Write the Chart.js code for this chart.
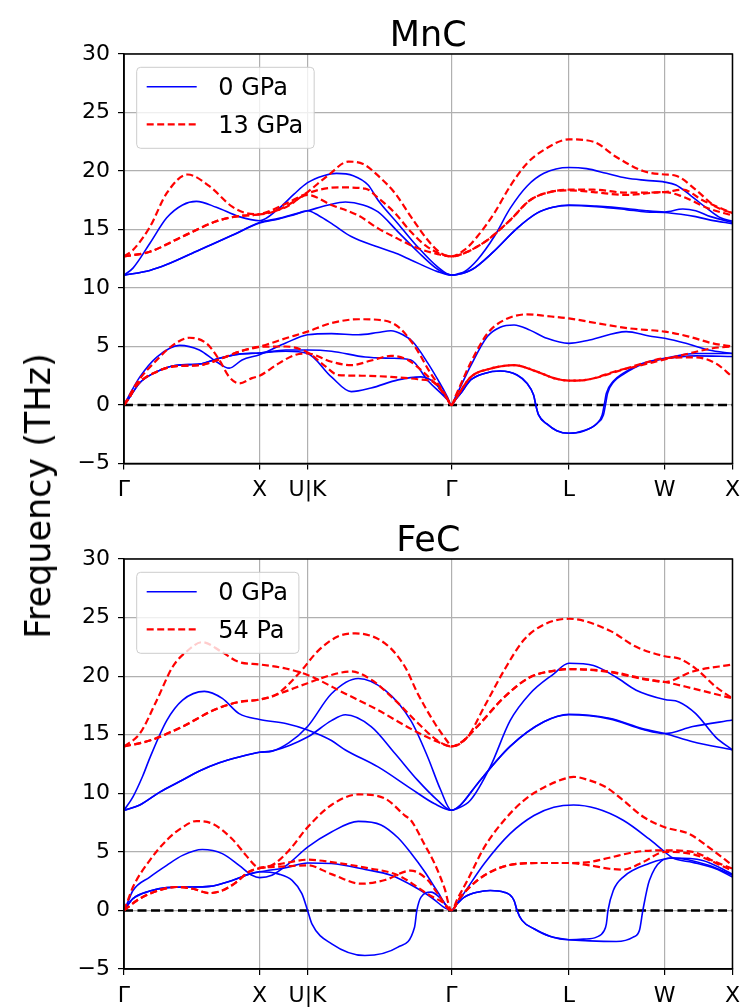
<!DOCTYPE html>
<html><head><meta charset="utf-8">
<script src="https://cdn.jsdelivr.net/npm/chart.js"></script>
<style>
html,body{margin:0;padding:0;background:#fff;}
body{width:748px;height:1007px;position:relative;overflow:hidden;}
canvas{position:absolute;left:0;}
#ylab{position:absolute;left:38px;top:496px;transform:translate(-50%,-50%) rotate(-90deg);font:35px 'DejaVu Sans';white-space:nowrap;color:#000;z-index:5;}
</style></head><body>
<canvas id="c1" width="748" height="504" style="top:0;width:748px;height:504px"></canvas>
<canvas id="c2" width="748" height="503" style="top:504px;width:748px;height:503px"></canvas>
<div id="ylab">Frequency (THz)</div>
<script>
// ---- high-symmetry path ----
const PATH_K = [0, 1.0, 1.354, 2.415, 3.281, 3.988, 4.488];
const PATH_LABELS = ['Γ', 'X', 'U|K', 'Γ', 'L', 'W', 'X'];
const Y_MIN = -5, Y_MAX = 30, Y_STEP = 5;
const TITLES = ['MnC', 'FeC'];
const LEGEND_MNC = ['0 GPa', '13 GPa'];
const LEGEND_FEC = ['0 GPa', '54 Pa'];

// ---- MnC, 0 GPa (THz) : [k, frequency] ----
const mnc0_o1 = [[0,11.1],[0.066,11.7],[0.19,13.8],[0.315,16.0],[0.432,17.1],[0.534,17.4],[0.681,16.9],[0.849,16.1],[1.0,15.75],[1.142,16.8],[1.252,18.0],[1.354,19.0],[1.472,19.6],[1.567,19.8],[1.691,19.6],[1.801,18.8],[1.874,17.5],[2.021,15.5],[2.167,13.5],[2.313,11.8],[2.415,11.1],[2.46,11.2],[2.511,11.4],[2.606,12.4],[2.731,14.4],[2.848,16.8],[2.972,18.7],[3.097,19.8],[3.281,20.3],[3.412,20.2],[3.558,19.8],[3.704,19.4],[3.851,19.2],[3.988,19.05],[4.071,18.8],[4.18,17.9],[4.312,16.7],[4.4,16.0],[4.488,15.7]];
const mnc0_o2 = [[0,11.1],[0.19,11.5],[0.315,12.0],[0.556,13.25],[0.798,14.5],[1.0,15.6],[1.142,15.95],[1.252,16.3],[1.354,16.6],[1.508,17.1],[1.633,17.35],[1.764,17.1],[1.874,16.5],[2.021,14.8],[2.167,13.1],[2.313,11.6],[2.415,11.1],[2.46,11.15],[2.57,11.6],[2.716,13.0],[2.899,15.1],[3.046,16.4],[3.163,16.9],[3.281,17.1],[3.485,17.0],[3.704,16.8],[3.851,16.6],[3.988,16.5],[4.122,16.75],[4.217,16.6],[4.327,16.1],[4.488,15.6]];
const mnc0_o3 = [[0,11.1],[0.19,11.5],[0.315,12.0],[0.556,13.25],[0.798,14.5],[1.0,15.55],[1.142,15.9],[1.252,16.25],[1.354,16.6],[1.435,16.2],[1.545,15.4],[1.676,14.4],[1.874,13.5],[2.021,12.9],[2.116,12.4],[2.313,11.4],[2.415,11.1],[2.46,11.15],[2.57,11.6],[2.716,13.0],[2.899,15.1],[3.046,16.4],[3.163,16.9],[3.281,17.05],[3.485,16.95],[3.704,16.7],[3.851,16.5],[3.988,16.45],[4.108,16.3],[4.217,16.1],[4.327,15.8],[4.488,15.5]];
const mnc0_a1 = [[0,0],[0.03,0.65],[0.117,2.4],[0.242,4.1],[0.41,5.1],[0.556,4.7],[0.681,3.7],[0.776,3.15],[0.871,3.85],[1.0,4.3],[1.193,5.3],[1.354,6.0],[1.53,6.1],[1.728,6.0],[1.874,6.2],[1.969,6.35],[2.057,6.0],[2.13,5.4],[2.24,3.6],[2.328,1.9],[2.385,0.7],[2.415,0],[2.445,0.7],[2.482,1.55],[2.555,3.3],[2.68,5.85],[2.775,6.65],[2.877,6.84],[2.994,6.4],[3.119,5.7],[3.281,5.27],[3.434,5.55],[3.704,6.27],[3.873,5.9],[3.988,5.7],[4.144,5.27],[4.312,4.7],[4.488,4.4]];
const mnc0_a2 = [[0,0],[0.03,0.45],[0.117,1.9],[0.242,2.85],[0.388,3.4],[0.556,3.5],[0.703,4.0],[0.849,4.35],[1.0,4.45],[1.193,4.7],[1.354,4.7],[1.53,4.6],[1.779,4.1],[1.969,4.0],[2.116,3.85],[2.24,2.1],[2.385,0.45],[2.415,0],[2.445,0.45],[2.484,1.0],[2.557,2.14],[2.658,2.7],[2.775,2.9],[2.899,2.56],[2.972,1.85],[3.021,0.85],[3.04,-0.14],[3.058,-0.85],[3.119,-1.62],[3.192,-2.2],[3.281,-2.42],[3.387,-2.2],[3.485,-1.62],[3.527,-0.85],[3.542,0],[3.558,1.0],[3.607,2.0],[3.68,2.7],[3.827,3.56],[3.988,4.0],[4.217,4.4],[4.488,4.4]];
const mnc0_a3 = [[0,0],[0.03,0.45],[0.117,1.9],[0.242,2.85],[0.388,3.4],[0.556,3.5],[0.703,4.0],[0.849,4.35],[1.0,4.45],[1.193,4.6],[1.354,4.4],[1.53,2.4],[1.676,1.14],[1.823,1.45],[2.021,2.15],[2.189,2.4],[2.291,1.9],[2.385,0.5],[2.415,0],[2.445,0.45],[2.484,1.0],[2.557,2.14],[2.658,2.7],[2.775,2.9],[2.899,2.56],[2.972,1.85],[3.021,0.85],[3.04,-0.14],[3.058,-0.85],[3.119,-1.62],[3.192,-2.2],[3.281,-2.42],[3.387,-2.25],[3.492,-1.55],[3.536,-0.85],[3.551,0],[3.567,1.0],[3.614,2.0],[3.68,2.6],[3.827,3.5],[3.988,3.95],[4.217,4.2],[4.488,4.15]];

// ---- MnC, 13 GPa ----
const mnc13_o1 = [[0,12.7],[0.066,13.25],[0.19,15.2],[0.315,18.1],[0.469,19.7],[0.63,18.7],[0.798,16.95],[0.9,16.4],[1.0,16.3],[1.142,16.7],[1.267,17.5],[1.354,18.2],[1.508,19.65],[1.655,20.8],[1.764,20.6],[1.874,19.6],[1.999,18.1],[2.116,16.1],[2.24,14.1],[2.335,13.0],[2.415,12.7],[2.511,13.25],[2.606,14.4],[2.731,16.4],[2.848,18.7],[2.972,20.65],[3.097,21.8],[3.281,22.7],[3.463,22.5],[3.631,21.2],[3.829,20.0],[3.988,19.7],[4.071,19.6],[4.217,18.4],[4.364,16.95],[4.488,16.4]];
const mnc13_o2 = [[0,12.7],[0.19,13.1],[0.432,14.4],[0.681,15.7],[0.849,16.15],[1.0,16.3],[1.193,17.2],[1.354,18.1],[1.581,18.6],[1.779,18.5],[1.874,17.7],[1.999,16.4],[2.116,14.8],[2.24,13.5],[2.415,12.7],[2.533,13.1],[2.68,14.1],[2.848,15.8],[2.994,17.5],[3.141,18.2],[3.281,18.4],[3.463,18.4],[3.704,18.15],[3.988,18.2],[4.122,18.4],[4.268,17.5],[4.488,16.4]];
const mnc13_o3 = [[0,12.7],[0.19,13.1],[0.432,14.4],[0.681,15.7],[0.849,16.15],[1.0,16.3],[1.193,16.9],[1.354,17.95],[1.53,17.1],[1.728,16.2],[1.874,15.1],[2.021,14.2],[2.167,13.4],[2.313,12.9],[2.415,12.7],[2.533,13.1],[2.68,14.1],[2.848,15.8],[2.994,17.5],[3.141,18.2],[3.281,18.35],[3.463,18.2],[3.704,17.95],[3.988,18.2],[4.122,17.8],[4.312,16.8],[4.488,16.2]];
const mnc13_a1 = [[0,0],[0.03,0.6],[0.095,1.9],[0.242,3.85],[0.359,5.1],[0.483,5.75],[0.608,5.27],[0.703,3.85],[0.776,2.4],[0.849,1.85],[0.944,2.3],[1.0,2.5],[1.142,3.56],[1.267,4.3],[1.354,4.4],[1.53,3.7],[1.676,3.4],[1.823,3.8],[1.969,4.2],[2.094,3.85],[2.218,2.7],[2.335,1.3],[2.385,0.5],[2.415,0],[2.445,0.75],[2.555,3.56],[2.68,6.1],[2.804,7.26],[2.972,7.75],[3.119,7.6],[3.281,7.4],[3.485,7.0],[3.726,6.55],[3.988,6.27],[4.166,5.85],[4.342,5.27],[4.488,5.0]];
const mnc13_a2 = [[0,0],[0.03,0.45],[0.095,1.7],[0.242,2.85],[0.388,3.33],[0.556,3.4],[0.703,3.9],[0.849,4.55],[1.0,4.98],[1.193,5.7],[1.354,6.27],[1.53,7.0],[1.728,7.33],[1.896,7.26],[2.021,6.7],[2.145,5.0],[2.262,2.7],[2.364,1.0],[2.415,0],[2.445,0.5],[2.555,2.36],[2.701,3.1],[2.877,3.4],[3.046,2.85],[3.17,2.3],[3.281,2.08],[3.434,2.2],[3.631,2.85],[3.829,3.56],[3.988,4.0],[4.217,4.07],[4.364,3.56],[4.488,2.4]];
const mnc13_a3 = [[0,0],[0.03,0.45],[0.095,1.7],[0.242,2.85],[0.388,3.33],[0.556,3.4],[0.703,3.9],[0.849,4.55],[1.0,4.98],[1.193,5.0],[1.354,4.5],[1.486,3.3],[1.581,2.56],[1.779,2.5],[1.969,2.4],[2.167,2.2],[2.291,1.9],[2.385,0.55],[2.415,0],[2.445,0.5],[2.555,2.36],[2.701,3.1],[2.877,3.4],[3.046,2.85],[3.17,2.3],[3.281,2.08],[3.434,2.2],[3.631,2.9],[3.778,3.3],[3.988,3.9],[4.166,4.4],[4.342,4.85],[4.488,5.0]];

// ---- FeC, 0 GPa ----
const fec0_o1 = [[0,8.55],[0.066,9.7],[0.139,11.5],[0.19,13.0],[0.315,16.2],[0.432,17.95],[0.593,18.7],[0.725,18.1],[0.849,16.8],[1.0,16.3],[1.193,15.95],[1.354,15.4],[1.53,14.5],[1.633,13.7],[1.874,12.25],[2.116,10.4],[2.291,9.1],[2.415,8.55],[2.46,8.7],[2.555,9.4],[2.701,12.25],[2.848,16.2],[2.994,18.5],[3.17,20.2],[3.281,21.1],[3.463,20.9],[3.631,19.9],[3.778,18.8],[3.988,18.0],[4.093,17.8],[4.217,16.8],[4.364,14.8],[4.488,13.7]];
const fec0_o2 = [[0,8.55],[0.117,9.0],[0.264,10.1],[0.41,11.0],[0.556,11.9],[0.703,12.6],[0.849,13.1],[1.0,13.5],[1.091,13.6],[1.215,14.3],[1.354,15.7],[1.53,18.5],[1.728,19.8],[1.925,18.8],[2.116,16.2],[2.24,13.1],[2.335,10.3],[2.415,8.55],[2.482,9.0],[2.606,10.8],[2.848,14.0],[3.097,16.1],[3.281,16.75],[3.58,16.4],[3.829,15.5],[3.988,15.1],[4.195,14.4],[4.488,13.7]];
const fec0_o3 = [[0,8.55],[0.117,9.0],[0.264,10.1],[0.41,11.0],[0.556,11.9],[0.703,12.6],[0.849,13.1],[1.0,13.5],[1.091,13.6],[1.354,14.8],[1.53,16.2],[1.633,16.7],[1.823,15.7],[1.999,13.4],[2.167,11.1],[2.313,9.4],[2.415,8.55],[2.482,9.0],[2.606,10.8],[2.848,14.0],[3.097,16.1],[3.281,16.7],[3.58,16.35],[3.829,15.45],[3.988,15.1],[4.195,15.7],[4.488,16.25]];
const fec0_a1 = [[0,0],[0.03,0.75],[0.066,1.7],[0.19,2.85],[0.315,3.85],[0.432,4.7],[0.578,5.2],[0.725,4.85],[0.849,3.85],[0.944,3.0],[1.0,2.8],[1.091,3.0],[1.215,4.0],[1.354,5.4],[1.53,6.7],[1.728,7.6],[1.896,7.3],[2.021,6.2],[2.116,4.9],[2.218,3.3],[2.313,1.6],[2.415,0],[2.46,0.65],[2.533,1.9],[2.658,4.0],[2.848,6.55],[3.024,8.1],[3.17,8.8],[3.316,9.0],[3.485,8.7],[3.682,7.7],[3.873,6.1],[3.988,5.0],[4.049,4.47],[4.195,4.1],[4.364,3.56],[4.488,2.85]];
const fec0_a2 = [[0,0],[0.066,1.0],[0.19,1.65],[0.315,1.95],[0.483,2.0],[0.63,2.05],[0.798,2.56],[0.922,3.1],[1.0,3.3],[1.193,3.65],[1.354,4.05],[1.53,4.0],[1.779,3.5],[1.969,3.0],[2.145,2.0],[2.262,1.15],[2.415,0],[2.46,0.6],[2.511,1.14],[2.606,1.56],[2.701,1.7],[2.804,1.56],[2.877,0.85],[2.899,0],[2.936,-0.85],[3.024,-1.56],[3.141,-2.2],[3.281,-2.5],[3.39,-2.45],[3.485,-2.28],[3.543,-1.7],[3.558,-1.14],[3.57,0],[3.609,1.7],[3.682,2.85],[3.873,4.0],[4.049,4.47],[4.268,4.27],[4.488,3.1]];
const fec0_a3 = [[0,0],[0.066,1.0],[0.19,1.65],[0.315,1.95],[0.483,2.0],[0.63,2.05],[0.798,2.56],[0.922,3.1],[1.0,3.3],[1.142,3.1],[1.24,2.56],[1.312,1.43],[1.354,0],[1.386,-1.14],[1.532,-2.85],[1.777,-3.85],[2.021,-3.13],[2.143,-1.43],[2.16,0],[2.191,1.14],[2.264,1.56],[2.338,1.0],[2.415,0],[2.46,0.6],[2.511,1.14],[2.606,1.56],[2.701,1.7],[2.804,1.56],[2.877,0.85],[2.899,0],[2.936,-0.85],[3.024,-1.56],[3.141,-2.2],[3.281,-2.5],[3.434,-2.6],[3.631,-2.65],[3.756,-2.28],[3.802,-1.7],[3.827,0],[3.875,2.56],[4.049,4.47],[4.312,3.85],[4.488,3.0]];

// ---- FeC, 54 Pa ----
const fec54_o1 = [[0,14.0],[0.117,15.1],[0.242,17.95],[0.359,20.8],[0.461,22.1],[0.578,22.9],[0.717,22.1],[0.849,21.2],[1.0,21.0],[1.193,20.65],[1.354,20.1],[1.633,18.5],[1.874,17.1],[2.116,15.5],[2.313,14.4],[2.415,14.0],[2.533,14.8],[2.658,17.4],[2.804,20.5],[2.95,23.1],[3.097,24.4],[3.281,24.9],[3.58,23.9],[3.778,22.5],[3.988,21.7],[4.093,21.5],[4.217,20.65],[4.364,19.1],[4.488,18.1]];
const fec54_o2 = [[0,14.0],[0.19,14.5],[0.432,15.7],[0.681,17.2],[0.849,17.8],[1.0,18.0],[1.12,18.4],[1.288,20.2],[1.435,22.2],[1.581,23.4],[1.706,23.65],[1.925,22.8],[2.072,20.8],[2.167,18.5],[2.291,16.0],[2.387,14.4],[2.415,14.0],[2.482,14.3],[2.606,15.7],[2.804,18.2],[2.994,19.9],[3.192,20.5],[3.281,20.6],[3.58,20.4],[3.829,19.8],[3.988,19.5],[4.195,20.4],[4.488,21.0]];
const fec54_o3 = [[0,14.0],[0.19,14.5],[0.432,15.7],[0.681,17.2],[0.849,17.8],[1.0,18.0],[1.12,18.4],[1.354,19.4],[1.53,20.1],[1.676,20.4],[1.823,19.7],[1.999,17.95],[2.167,16.0],[2.313,14.5],[2.415,14.0],[2.482,14.3],[2.606,15.7],[2.804,18.2],[2.994,19.9],[3.192,20.5],[3.281,20.6],[3.58,20.35],[3.829,19.75],[3.988,19.5],[4.195,18.95],[4.488,18.1]];
const fec54_a1 = [[0,0],[0.03,0.9],[0.066,2.0],[0.19,4.27],[0.315,6.0],[0.432,7.1],[0.534,7.63],[0.652,7.4],[0.798,6.1],[0.9,4.7],[0.974,3.76],[1.0,3.65],[1.091,3.85],[1.215,5.1],[1.354,7.1],[1.53,9.0],[1.728,9.9],[1.925,9.55],[2.072,8.1],[2.116,7.7],[2.218,5.6],[2.291,4.0],[2.364,1.9],[2.415,0],[2.46,1.0],[2.533,2.56],[2.658,5.4],[2.804,7.7],[2.95,9.4],[3.097,10.5],[3.281,11.35],[3.316,11.4],[3.434,11.1],[3.558,10.5],[3.682,9.4],[3.829,8.0],[3.988,7.1],[4.166,6.55],[4.312,5.4],[4.488,3.85]];
const fec54_a2 = [[0,0],[0.095,0.85],[0.19,1.43],[0.388,2.0],[0.505,1.85],[0.63,1.48],[0.725,1.7],[0.827,2.4],[0.922,3.3],[1.0,3.6],[1.193,4.05],[1.354,4.33],[1.53,4.13],[1.779,3.65],[2.021,3.0],[2.24,1.4],[2.364,0.57],[2.415,0],[2.482,1.14],[2.606,2.56],[2.753,3.56],[2.921,4.0],[3.097,4.05],[3.281,4.05],[3.434,4.13],[3.58,4.5],[3.778,5.0],[3.988,5.13],[4.195,5.0],[4.364,4.13],[4.488,3.56]];
const fec54_a3 = [[0,0],[0.095,0.85],[0.19,1.43],[0.388,2.0],[0.505,1.85],[0.63,1.48],[0.725,1.7],[0.827,2.4],[0.922,3.3],[1.0,3.6],[1.193,3.76],[1.354,3.85],[1.53,3.1],[1.75,2.28],[1.925,2.6],[2.116,3.4],[2.24,2.6],[2.313,1.45],[2.415,0],[2.482,1.14],[2.606,2.56],[2.753,3.56],[2.921,4.0],[3.097,4.05],[3.281,4.05],[3.434,3.85],[3.58,3.56],[3.682,3.48],[3.829,4.13],[3.988,5.0],[4.195,4.8],[4.488,3.4]];

const ZERO_LINE = [[0,0],[4.488,0]];

// ---- styling (not data) ----
const FONT = "'DejaVu Sans'";
const BLUE = '#0000ff', RED = '#ff0000';

function bandSets(bands, color, dash, width, label, order) {
  return bands.map(b => ({
    label, data: b.map(p => ({x: p[0], y: p[1]})),
    borderColor: color, borderWidth: width, borderDash: dash,
    pointRadius: 0, fill: false, cubicInterpolationMode: 'monotone', order
  }));
}

const framePlugin = {
  id: 'frame',
  afterDraw(chart, args, o) {
    const {ctx, chartArea: a} = chart;
    ctx.save();
    ctx.strokeStyle = '#000'; ctx.lineWidth = 1.5;
    ctx.strokeRect(a.left, a.top, a.right - a.left, a.bottom - a.top);
    // title
    ctx.fillStyle = '#000';
    ctx.font = '35px ' + FONT;
    ctx.textAlign = 'center'; ctx.textBaseline = 'alphabetic';
    ctx.fillText(o.title, (a.left + a.right) / 2, a.top - 8);
    // legend
    ctx.font = '24px ' + FONT;
    const tw = Math.max(...o.legend.map(t => ctx.measureText(t).width));
    const bx = a.left + 12.7, by = a.top + 13.3, bw = 81.6 + tw + 11, bh = 81;
    ctx.beginPath();
    ctx.roundRect(bx, by, bw, bh, 4);
    ctx.fillStyle = 'rgba(255,255,255,0.8)'; ctx.fill();
    ctx.strokeStyle = '#cccccc'; ctx.lineWidth = 1; ctx.stroke();
    const rows = [by + 19.4, by + 57];
    const styles = [{c: BLUE, w: 1.6, d: []}, {c: RED, w: 2.2, d: [7, 3.5]}];
    rows.forEach((ry, i) => {
      ctx.beginPath(); ctx.setLineDash(styles[i].d);
      ctx.strokeStyle = styles[i].c; ctx.lineWidth = styles[i].w;
      ctx.moveTo(bx + 10, ry); ctx.lineTo(bx + 60, ry); ctx.stroke();
      ctx.setLineDash([]);
      ctx.fillStyle = '#000'; ctx.textAlign = 'left'; ctx.textBaseline = 'alphabetic';
      ctx.fillText(o.legend[i], bx + 81.6, ry + 8.7);
    });
    ctx.restore();
  }
};

function makeChart(id, blue, red, legend, title, padTop, xH) {
  const datasets = [
    ...bandSets(red, RED, [7, 3.5], 2.2, legend[1], 1),
    ...bandSets(blue, BLUE, [], 1.6, legend[0], 2),
    {label: 'zero', data: ZERO_LINE.map(p => ({x: p[0], y: p[1]})), borderColor: '#000', borderWidth: 2.6, borderDash: [9, 4.5], pointRadius: 0, fill: false, order: 3}
  ];
  const grid = {color: '#b0b0b0', lineWidth: 1.2, tickColor: '#000', tickLength: 6, tickWidth: 1.2, drawTicks: true};
  return new Chart(document.getElementById(id), {
    type: 'line',
    data: {datasets},
    options: {
      responsive: false, animation: false, devicePixelRatio: 1,
      layout: {padding: {top: padTop, right: 11, left: 0, bottom: 0}},
      plugins: {legend: {display: false}, tooltip: {enabled: false}, frame: {title, legend}},
      scales: {
        x: {
          type: 'linear', min: PATH_K[0], max: PATH_K[PATH_K.length - 1],
          afterBuildTicks: s => { s.ticks = PATH_K.map(v => ({value: v})); },
          afterFit: s => { s.height = xH; },
          ticks: {autoSkip: false, maxRotation: 0, color: '#000', padding: 8, font: {family: FONT, size: 22},
                  callback: (v, i) => PATH_LABELS[i]},
          grid, border: {display: true, color: '#000', width: 1.5}
        },
        y: {
          type: 'linear', min: Y_MIN, max: Y_MAX,
          afterFit: s => { s.width = 124; },
          ticks: {stepSize: Y_STEP, color: '#000', padding: 8, font: {family: FONT, size: 22},
                  callback: v => String(v).replace('-', '\u2212')},
          grid, border: {display: true, color: '#000', width: 1.5}
        }
      }
    },
    plugins: [framePlugin]
  });
}

makeChart('c1', [mnc0_o1, mnc0_o2, mnc0_o3, mnc0_a1, mnc0_a2, mnc0_a3],
                [mnc13_o1, mnc13_o2, mnc13_o3, mnc13_a1, mnc13_a2, mnc13_a3],
                LEGEND_MNC, TITLES[0], 54, 40.5);
makeChart('c2', [fec0_o1, fec0_o2, fec0_o3, fec0_a1, fec0_a2, fec0_a3],
                [fec54_o1, fec54_o2, fec54_o3, fec54_a1, fec54_a2, fec54_a3],
                LEGEND_FEC, TITLES[1], 55, 38);
</script></body></html>
